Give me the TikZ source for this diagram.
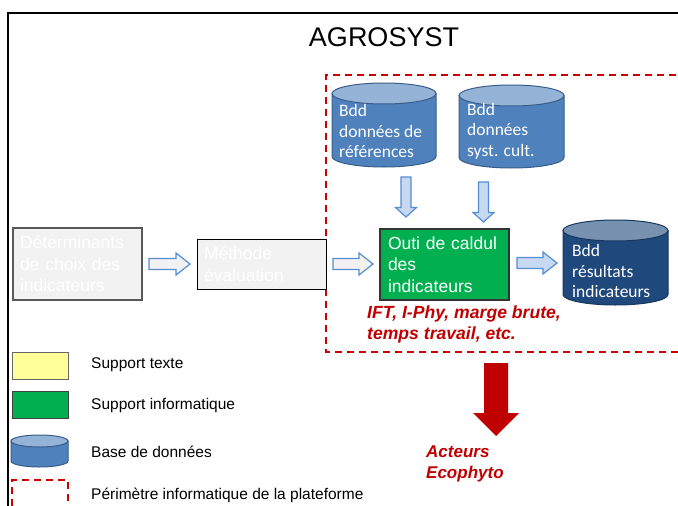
\documentclass[tikz,border=0pt]{standalone}
\usepackage{fontspec}
\setmainfont{Liberation Sans}
\newfontfamily\calib{Carlito}
\definecolor{dbblue}{HTML}{4F81BD}
\definecolor{dbtop}{HTML}{95B3D7}
\definecolor{dbborder}{HTML}{385D8A}
\definecolor{dbdark}{HTML}{1F497D}
\definecolor{dbdarktop}{HTML}{7891B0}
\definecolor{dbdarkborder}{HTML}{17375E}
\definecolor{arrowline}{HTML}{558ED5}
\definecolor{arrowblue}{HTML}{C6D9F1}
\definecolor{boxgray}{HTML}{F2F2F2}
\definecolor{perim}{HTML}{CC0000}
\definecolor{darkred}{HTML}{C00000}
\definecolor{legyellow}{HTML}{FFFF99}
\definecolor{infogreen}{HTML}{00B050}
\tikzset{
  graybox/.style={draw=#1, fill=boxgray, text=white, align=left, inner xsep=7pt, inner ysep=0pt,
    font=\fontsize{17.5}{21.5}\selectfont},
  greenbox/.style={draw=black!80, line width=1.2pt, fill=infogreen, text=white, align=left, inner xsep=8pt, inner ysep=0pt,
    font=\fontsize{17.5}{21.5}\selectfont},
  dbtext/.style={text=white, align=left, anchor=west, inner sep=0pt, font=\calib\fontsize{17.5}{20.5}\selectfont},
  perimline/.style={draw=perim, line width=1.5pt, dash pattern=on 7pt off 5pt},
  redlabel/.style={text=darkred, align=left, anchor=west, inner sep=0pt, font=\bfseries\itshape\fontsize{17.6}{21}\selectfont},
  legtext/.style={anchor=west, inner sep=0pt, font=\fontsize{15.5}{18}\selectfont},
  blockarrow/.style={draw=arrowline, line width=1.2pt, line join=miter, fill=#1},
}
% horizontal block arrow: x1, x2, yc, fill
\newcommand\harrowshape[4]{%
  \filldraw[blockarrow=#4] (#1,{-(#3)+5.5}) -- ({#2-14},{-(#3)+5.5}) -- ({#2-14},{-(#3)+11}) -- (#2,{-(#3)})
    -- ({#2-14},{-(#3)-11}) -- ({#2-14},{-(#3)-5.5}) -- (#1,{-(#3)-5.5}) -- cycle;}
% vertical block arrow: xc, y1, y2
\newcommand\varrowshape[3]{%
  \filldraw[blockarrow=arrowblue] ({#1-5},{-(#2)}) -- ({#1+5},{-(#2)}) -- ({#1+5},{-(#3)+9.5}) -- ({#1+10.5},{-(#3)+9.5})
    -- (#1,{-(#3)}) -- ({#1-10.5},{-(#3)+9.5}) -- ({#1-5},{-(#3)+9.5}) -- cycle;}
% cylinder: x1, x2, top, bottom, ry, body, top colour, border
\newcommand\dbshape[8]{%
  \pgfmathsetmacro\cw{(#2-#1)/2}%
  \filldraw[fill=#6, draw=#8, line width=1pt] (#1,{-(#3)-(#5)}) -- (#1,{-(#4)+(#5)})
    arc[start angle=180, end angle=360, x radius=\cw pt, y radius=#5 pt] -- (#2,{-(#3)-(#5)}) -- cycle;
  \filldraw[fill=#7, draw=#8, line width=1pt] ({(#1+#2)/2},{-(#3)-(#5)}) ellipse[x radius=\cw pt, y radius=#5 pt];}
\begin{document}
\begin{tikzpicture}[x=1pt, y=1pt]
\useasboundingbox (0,0) rectangle (678,-506);
\fill[white] (0,0) rectangle (678,-506);
% outer frame
\draw[line width=2pt] (8,-506) -- (8,-13) -- (678,-13);
\node (title) at (384,-37) {\fontsize{27}{30}\selectfont AGROSYST};
% perimeter
\draw[perimline] (678,-352) -- (326,-352) -- (326,-75) -- (678,-75);
% databases
\dbshape{332}{436}{83}{167}{10.5}{dbblue}{dbtop}{dbborder}
\node[dbtext] (ref) at (339,-131) {Bdd\\données de\\références};
\dbshape{459}{564}{85}{168}{10.5}{dbblue}{dbtop}{dbborder}
\node[dbtext] (syst) at (467,-131) {Bdd\\données\\syst. cult.};
\dbshape{563}{668}{220}{305}{10.5}{dbdark}{dbdarktop}{dbdarkborder}
\node[dbtext] (res) at (572,-271) {Bdd\\résultats\\indicateurs};
% boxes
\node[graybox=black!65, line width=1.5pt, minimum width=129pt, minimum height=72pt, text width=115pt] (det) at (77.5,-264)
  {Déterminants\\de choix des\\indicateurs};
\node[graybox=black, line width=1pt, minimum width=129pt, minimum height=50pt, text width=115pt] (meth) at (261.5,-264)
  {Méthode\\évaluation};
\node[greenbox, minimum width=129pt, minimum height=71pt, text width=113pt] (calc) at (444.5,-264.5)
  {Outi de caldul\\des\\indicateurs};
\node[redlabel] (ind) at (367,-324.5) {IFT, I-Phy, marge brute,\\temps travail, etc.};
% block arrows
\harrowshape{149}{190}{264}{boxgray}
\harrowshape{333}{373}{264}{boxgray}
\harrowshape{517}{557}{263}{arrowblue}
\varrowshape{406}{177}{217}
\varrowshape{483.5}{182}{222}
% output arrow
\fill[darkred] (484,-363) -- (508,-363) -- (508,-413) -- (519,-413) -- (496,-436) -- (473,-413) -- (484,-413) -- cycle;
\node[redlabel, font=\bfseries\itshape\fontsize{17}{21}\selectfont] (act) at (426,-463.5) {Acteurs\\Ecophyto};
% legend
\node[draw=black!60, line width=1pt, fill=legyellow, minimum width=56pt, minimum height=27pt, inner sep=0pt] (ly) at (40,-365.5) {};
\node[legtext] (lyt) at (91,-365) {Support texte};
\node[draw=black!75, line width=1pt, fill=infogreen, minimum width=56pt, minimum height=27pt, inner sep=0pt] (lg) at (40,-404.5) {};
\node[legtext] (lgt) at (91,-405) {Support informatique};
\dbshape{11}{68}{435}{467}{6}{dbblue}{dbtop}{dbborder}
\node[legtext] (lbt) at (91,-452) {Base de données};
\draw[perimline] (12,-506) -- (12,-480) -- (68,-480) -- (68,-506);
\node[legtext] (lpt) at (91,-495) {Périmètre informatique de la plateforme};
\end{tikzpicture}
\end{document}
